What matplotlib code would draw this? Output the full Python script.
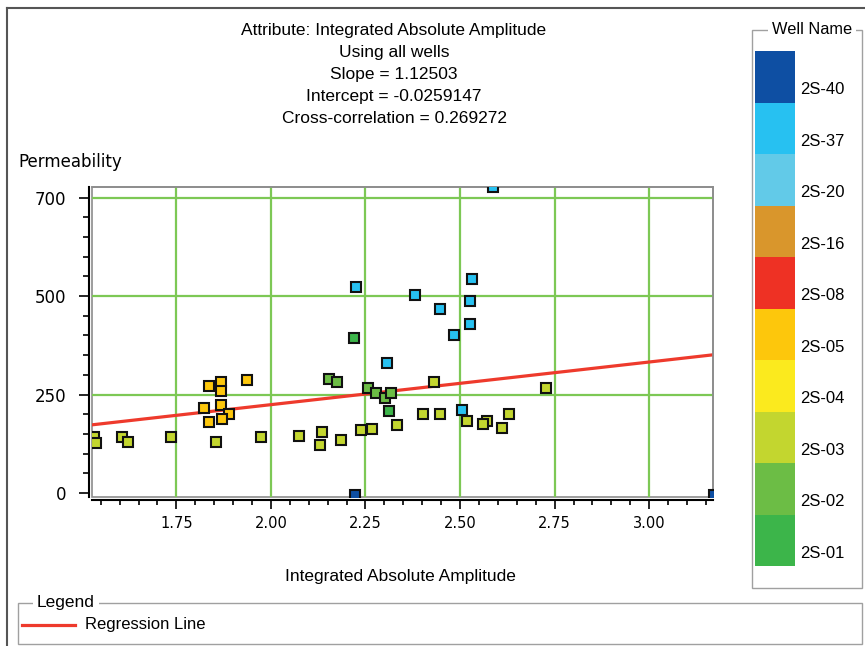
import numpy as np
import matplotlib.pyplot as plt
from matplotlib.patches import Rectangle
from matplotlib.lines import Line2D
from matplotlib.ticker import FixedLocator

# wells shown in the colour key, top to bottom
wells = ['2S-40', '2S-37', '2S-20', '2S-16', '2S-08', '2S-05', '2S-04', '2S-03', '2S-02', '2S-01']
well_colors = ['#0E4FA3', '#27C1F1', '#62CAE8', '#D9962C', '#EE3124',
               '#FDC70C', '#FBEA1E', '#C3D62F', '#6CBD45', '#3CB54A']

# crossplot samples (attribute, permeability) per well
x_2s40 = [2.221, 3.172]
y_2s40 = [-5, -5]
x_2s37 = [2.307, 2.505, 2.588, 2.224, 2.381, 2.532, 2.527, 2.448, 2.527, 2.485]
y_2s37 = [330, 211, 722, 519, 502, 535, 487, 467, 430, 402]
x_2s05 = [1.837, 1.867, 1.867, 1.937, 1.824, 1.867, 1.890, 1.837, 1.870]
y_2s05 = [272, 281, 260, 288, 215, 224, 200, 181, 188]
x_2s03 = [1.533, 1.537, 1.606, 1.623, 1.735, 1.856, 1.975, 2.074, 2.135, 2.131, 2.186, 2.237,
          2.267, 2.333, 2.430, 2.401, 2.448, 2.518, 2.571, 2.560, 2.629, 2.611, 2.726]
y_2s03 = [142, 127, 142, 131, 142, 131, 142, 146, 156, 123, 135, 160,
          163, 172, 281, 200, 200, 183, 183, 176, 200, 166, 268]
x_2s02 = [2.153, 2.175, 2.257, 2.279, 2.301, 2.318]
y_2s02 = [289, 283, 268, 254, 241, 254]
x_2s01 = [2.219, 2.311]
y_2s01 = [393, 209]

# regression line as drawn on the permeability axis
line_slope = 108.2
line_intercept = 8.1

title_lines = ['Attribute: Integrated Absolute Amplitude',
               'Using all wells',
               'Slope = 1.12503',
               'Intercept = -0.0259147',
               'Cross-correlation = 0.269272']

x_major = [1.75, 2.00, 2.25, 2.50, 2.75, 3.00]
x_minor = np.round(np.arange(1.55, 3.16, 0.05), 2)
y_major = [0, 250, 500, 700]
y_minor = [50, 100, 150, 200, 300, 350, 400, 450, 540, 580, 620, 660]

W, H = 865, 646
fig = plt.figure(figsize=(W / 100, H / 100), dpi=100)


def fx(px):
    return px / W


def fy(py):
    return 1 - py / H


# permeability axis: 0-500 linear, 500-700 stretched
def fwd(y):
    y = np.asarray(y, dtype=float)
    return np.where(y <= 500, y / 250.0, 2 + (y - 500) / 200.0)


def inv(u):
    u = np.asarray(u, dtype=float)
    return np.where(u <= 2, u * 250.0, 500 + (u - 2) * 200.0)


sans = ['Liberation Sans', 'DejaVu Sans']

ax = fig.add_axes([fx(92), fy(496.7), fx(712.7) - fx(92), fy(186.7) - fy(496.7)])
ax.set_yscale('function', functions=(fwd, inv))
ax.set_xlim(1.527, 3.168)
ax.set_ylim(-9, 722)

grid_green = '#7DC855'
for xv in x_major:
    ax.axvline(xv, color=grid_green, lw=1.6, zorder=1)
for yv in y_major[1:]:
    ax.axhline(yv, color=grid_green, lw=1.6, zorder=1)

xl = np.array(ax.get_xlim())
ax.plot(xl, line_slope * xl + line_intercept, color='#EE3A2C', lw=2.3, zorder=2)

groups = [(x_2s40, y_2s40, '2S-40'), (x_2s37, y_2s37, '2S-37'), (x_2s05, y_2s05, '2S-05'),
          (x_2s03, y_2s03, '2S-03'), (x_2s02, y_2s02, '2S-02'), (x_2s01, y_2s01, '2S-01')]
for gx, gy, name in groups:
    ax.plot(gx, gy, ls='none', marker='s', ms=7.4, mfc=well_colors[wells.index(name)],
            mec='#111111', mew=1.5, zorder=3)

ax.xaxis.set_major_locator(FixedLocator(x_major))
ax.xaxis.set_minor_locator(FixedLocator(x_minor))
ax.yaxis.set_major_locator(FixedLocator(y_major))
ax.yaxis.set_minor_locator(FixedLocator(y_minor))
ax.set_xticklabels(['%.2f' % v for v in x_major])
ax.set_yticklabels([str(v) for v in y_major])
ax.tick_params(axis='y', which='major', length=7.2, width=1.2, pad=9, labelsize=12)
ax.tick_params(axis='y', which='minor', length=4.3, width=1.2)
ax.tick_params(axis='x', which='major', length=6.5, width=1.2, pad=5, labelsize=10.5)
ax.tick_params(axis='x', which='minor', length=3.5, width=1.2)

for side in ['left', 'bottom']:
    ax.spines[side].set_position(('outward', 2.5))
    ax.spines[side].set_color('black')
    ax.spines[side].set_linewidth(1.5)
for side in ['top', 'right']:
    ax.spines[side].set_color('#8C8C8C')
    ax.spines[side].set_linewidth(1.2)
ax.add_patch(Rectangle((0, 0), 1, 1, transform=ax.transAxes, fill=False,
                       ec='#8C8C8C', lw=1.2, clip_on=False, zorder=0))

# header text
for i, line in enumerate(title_lines):
    fig.text(fx(394), fy(30 + i * 22.2), line, ha='center', va='center',
             fontsize=12.5, family=sans)
fig.text(fx(18), fy(162), 'Permeability', ha='left', va='center', fontsize=12)
fig.text(fx(400), fy(577), 'Integrated Absolute Amplitude', ha='center', va='center',
         fontsize=12.5, family=sans)

# outer panel border
fig.add_artist(Line2D([fx(7), 1], [fy(8), fy(8)], color='#555555', lw=1.5))
fig.add_artist(Line2D([fx(7), fx(7)], [fy(8), 0], color='#555555', lw=1.5))

# well colour key
fig.add_artist(Rectangle((fx(752), fy(588)), fx(862) - fx(752), fy(30) - fy(588),
                         fill=False, ec='#A0A0A0', lw=1.0))
fig.text(fx(812), fy(29), 'Well Name', ha='center', va='center', fontsize=11.8,
         family=sans, bbox=dict(fc='white', ec='none', pad=3))
kax = fig.add_axes([fx(755), fy(566), fx(795) - fx(755), fy(51) - fy(566)])
pos = np.arange(len(wells))[::-1]
kax.barh(pos, np.ones(len(wells)), height=1.0, color=well_colors, left=0)
kax.set_xlim(0, 1)
kax.set_ylim(-0.5, len(wells) - 0.5)
kax.axis('off')
for p, name in zip(pos, wells):
    kax.text(1.12, p - 0.25, name, transform=kax.get_yaxis_transform(),
             ha='left', va='center', fontsize=12, family=sans)

# bottom legend frame
fig.add_artist(Rectangle((fx(18), fy(644)), fx(862) - fx(18), fy(603) - fy(644),
                         fill=False, ec='#A0A0A0', lw=1.0))
fig.text(fx(37), fy(603), 'Legend', ha='left', va='center', fontsize=12.5,
         family=sans, bbox=dict(fc='white', ec='none', pad=3))
fig.add_artist(Line2D([fx(22), fx(75)], [fy(625), fy(625)], color='#EE3A2C', lw=2.3))
fig.text(fx(85), fy(625), 'Regression Line', ha='left', va='center', fontsize=12,
         family=sans)

fig.savefig('out.png', dpi=100)
